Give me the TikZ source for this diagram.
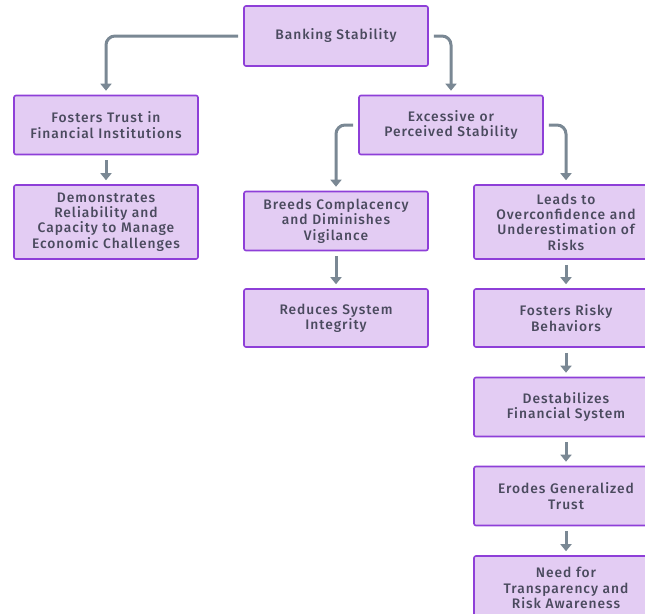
\documentclass[tikz,border=0pt]{standalone}
\usepackage{fontspec}
\setmainfont{Fira Sans}[BoldFont={Fira Sans Medium}, LetterSpace=7]
\usetikzlibrary{arrows.meta}
\definecolor{boxfill}{HTML}{E3CCF3}
\definecolor{boxborder}{HTML}{8E3FD8}
\definecolor{txt}{HTML}{4A4A5E}
\definecolor{arr}{HTML}{7A8894}
\begin{document}
\begin{tikzpicture}[x=1pt,y=-1pt,
  box/.style={draw=boxborder, fill=boxfill, line width=1.6pt, rounded corners=2pt,
    minimum width=184pt, text width=184pt, align=center, inner sep=0pt,
    font=\bfseries\fontsize{13.8}{15.3}\selectfont, text=txt},
  conn/.style={draw=arr, line width=3pt, rounded corners=9pt,
    -{Triangle[length=7pt,width=11pt]}, shorten <=5pt, shorten >=4pt}]
\clip (0,0) rectangle (645,613);
\fill[white] (0,0) rectangle (645,613);
\node[box, minimum height=60pt] (bs) at (336,36) {Banking Stability};
\node[box, minimum height=59pt] (ft) at (106,125) {Fosters Trust in\\Financial Institutions};
\node[box, minimum height=74pt] (dr) at (106,222) {Demonstrates\\Reliability and\\Capacity to Manage\\Economic Challenges};
\node[box, minimum height=59pt] (ex) at (451,125) {Excessive or\\Perceived Stability};
\node[box, minimum height=59pt] (bc) at (336,221) {Breeds Complacency\\and Diminishes\\Vigilance};
\node[box, minimum height=58pt] (rs) at (336,318) {Reduces System\\Integrity};
\node[box, minimum height=74pt] (lo) at (566,222) {Leads to\\Overconfidence and\\Underestimation of\\Risks};
\node[box, minimum height=58pt] (fr) at (566,318) {Fosters Risky\\Behaviors};
\node[box, minimum height=59pt] (df) at (566,407) {Destabilizes\\Financial System};
\node[box, minimum height=59pt] (eg) at (566,496) {Erodes Generalized\\Trust};
\node[box, minimum height=64pt] (nt) at (566,588) {Need for\\Transparency and\\Risk Awareness};
\draw[conn] (bs.west) -| (ft.north);
\draw[conn] (bs.east) -| (ex.north);
\draw[conn] (ft.south) -- (dr.north);
\draw[conn] (ex.west) -| (bc.north);
\draw[conn] (ex.east) -| (lo.north);
\draw[conn] (bc.south) -- (rs.north);
\draw[conn] (lo.south) -- (fr.north);
\draw[conn] (fr.south) -- (df.north);
\draw[conn] (df.south) -- (eg.north);
\draw[conn] (eg.south) -- (nt.north);
\end{tikzpicture}
\end{document}
